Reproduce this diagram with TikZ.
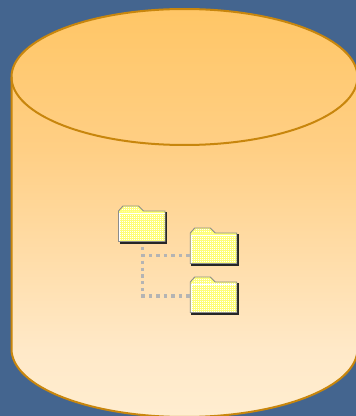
\documentclass[tikz,border=0pt]{standalone}
\usetikzlibrary{patterns}
\definecolor{slateback}{HTML}{44658F}
\definecolor{drumline}{HTML}{C8860D}
\definecolor{drumtop}{HTML}{FFC666}
\definecolor{drumupper}{HTML}{FFCF85}
\definecolor{drumlower}{HTML}{FFE9C8}
\definecolor{drumbottom}{HTML}{FFEDD0}
\definecolor{folderfill}{HTML}{FFFF78}
\definecolor{linkgrey}{HTML}{B4B4B4}
\pgfdeclareverticalshading{drumshade}{100bp}{color(0bp)=(drumbottom); color(25bp)=(drumbottom); color(33.2bp)=(drumlower); color(57.75bp)=(drumupper); color(75bp)=(drumtop); color(100bp)=(drumtop)}
\pgfdeclarepatternformonly{finedots}{\pgfqpoint{-0.5pt}{-0.5pt}}{\pgfqpoint{1.5pt}{1.5pt}}{\pgfqpoint{2pt}{2pt}}{
  \pgfpathrectangle{\pgfqpoint{0pt}{0pt}}{\pgfqpoint{1.1pt}{1.1pt}}
  \pgfusepath{fill}
}
\tikzset{
  drum/.style = {draw=drumline, line width=2pt},
  folderbody/.style = {minimum width=48.5pt, minimum height=32pt, inner sep=0pt, outer sep=0pt},
  vlink/.style = {draw=linkgrey, line width=3.2pt, dash pattern=on 3.2pt off 3.65pt},
  hlink/.style = {draw=linkgrey, line width=3.2pt, dash pattern=on 3.2pt off 4.3pt},
}
% one folder: name, x, y of the body centre
\newcommand{\folder}[3]{
  \node[folderbody] (#1) at (#2,#3) {};
  \begin{scope}[shift={(#1.south west)}]
    \fill[black!85] (1,0) rectangle (48.75,2.5);
    \fill[black!85] (46.5,0) rectangle (48.75,31.5);
    \path[fill=folderfill, draw=gray!90, line width=0.9pt]
      (0,2.5) -- (0,33) -- (4.5,38) -- (20,38) -- (25,33) -- (46.5,33) -- (46.5,2.5) -- cycle;
    \path[pattern=finedots, pattern color=white]
      (1,3) rectangle (46,31);
    \fill[pattern=finedots, pattern color=white] (2,32.5) -- (5,37) -- (19.5,37) -- (23,32.5) -- cycle;
    \draw[white, line width=1.2pt] (1.1,2.5) -- (1.1,30.8) -- (46,30.8);
  \end{scope}
}
\begin{document}
\begin{tikzpicture}[x=1pt, y=1pt]
  \useasboundingbox (0,0) rectangle (356,416);
  \fill[slateback] (0,0) rectangle (356,416);

  \begin{scope}
    \clip (0,0) rectangle (356,416);
    \draw[drum, shading=drumshade]
      (11.5,339) arc[start angle=180, end angle=0, x radius=173, y radius=68]
      -- (357.5,67) arc[start angle=360, end angle=180, x radius=173, y radius=68] -- cycle;
    \draw[drum] (11.5,339) arc[start angle=180, end angle=360, x radius=173, y radius=68];
  \end{scope}

  \folder{fTop}{142.75}{188}
  \folder{fMid}{214.5}{166}
  \folder{fLow}{214.5}{117}

  \coordinate (bMid) at ([yshift=-5.5pt]fMid.west -| fTop.south);
  \coordinate (bLow) at ([yshift=3pt]fLow.west -| fTop.south);

  \draw[vlink] ([yshift=-3pt]fTop.south) -- ([yshift=-1.6pt]bLow);
  \draw[hlink] ([xshift=-1.3pt]bMid) -- ([yshift=-5.5pt]fMid.west);
  \draw[hlink] ([xshift=-1.3pt]bLow) -- ([yshift=3pt]fLow.west);
\end{tikzpicture}
\end{document}
